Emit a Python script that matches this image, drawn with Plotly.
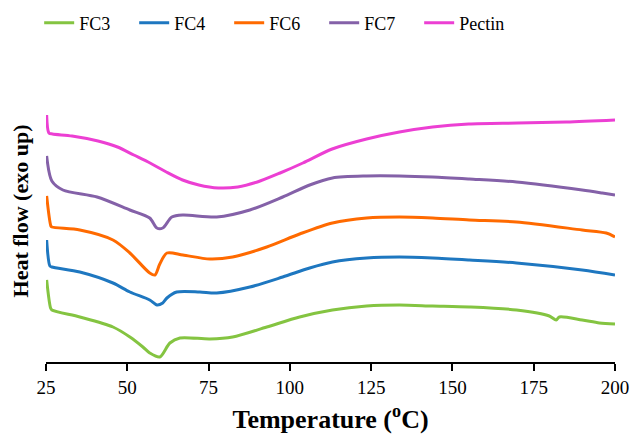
import plotly.graph_objects as go

# Temperature (°C) and heat flow (arbitrary units, exo up)
fc3_t = [25.2, 26.4, 26.8, 35.4, 45.6, 50.8, 54.8, 56.9, 60.0, 63.1, 66.2, 75.4, 82.4, 92.9, 103.0,
         113.1, 123.6, 133.7, 143.9, 155.2, 169.7, 179.8, 181.9, 182.9, 189.9, 195.2, 200.0]
fc3_v = [8.2, 5.4, 5.2, 4.5, 3.5, 2.5, 1.5, 0.9, 0.5, 1.9, 2.4, 2.3, 2.5, 3.5, 4.5,
         5.2, 5.6, 5.7, 5.6, 5.5, 5.2, 4.6, 4.2, 4.5, 4.2, 3.9, 3.8]

fc4_t = [25.2, 26.2, 26.8, 35.4, 45.6, 50.8, 56.9, 59.1, 60.9, 62.2, 65.2, 72.3, 77.5, 87.7, 97.8,
         106.1, 113.1, 123.6, 133.7, 143.9, 155.2, 169.7, 189.9, 200.0]
fc4_v = [12.2, 9.6, 9.5, 9.0, 7.9, 7.0, 6.2, 5.7, 5.9, 6.4, 7.0, 7.0, 6.9, 7.5, 8.5,
         9.4, 10.0, 10.4, 10.5, 10.4, 10.2, 9.9, 9.2, 8.7]

fc6_t = [25.2, 26.5, 26.8, 35.4, 45.6, 50.8, 56.9, 58.5, 60.0, 62.2, 67.1, 75.4, 82.4, 92.9, 103.0,
         113.1, 123.6, 133.7, 143.9, 155.2, 169.7, 189.9, 197.3, 200.0]
fc6_v = [16.6, 13.6, 13.5, 13.2, 12.2, 10.9, 8.9, 8.7, 9.8, 10.9, 10.7, 10.3, 10.5, 11.5, 12.8,
         13.9, 14.4, 14.5, 14.4, 14.2, 14.0, 13.2, 12.9, 12.5]

fc7_t = [25.2, 26.8, 30.2, 40.7, 50.8, 56.9, 59.1, 60.9, 63.7, 67.1, 77.5, 87.7, 97.8, 106.1,
         113.1, 123.6, 133.7, 143.9, 155.2, 169.7, 189.9, 196.1, 200.0]
fc7_v = [20.6, 18.1, 17.2, 16.5, 15.2, 14.4, 13.4, 13.4, 14.5, 14.7, 14.5, 15.2, 16.5, 17.7,
         18.4, 18.6, 18.6, 18.5, 18.3, 18.0, 17.2, 16.9, 16.7]

pectin_t = [25.2, 25.9, 27.0, 33.0, 41.0, 47.0, 52.0, 57.0, 62.0, 67.0, 72.0, 78.0, 84.0, 90.0,
            97.0, 104.0, 113.0, 123.6, 133.7, 143.9, 155.0, 170.0, 185.0, 200.0]
pectin_v = [24.7, 22.9, 22.8, 22.6, 22.1, 21.5, 20.7, 19.9, 19.0, 18.2, 17.7, 17.4, 17.5, 18.0,
            18.9, 19.9, 21.3, 22.3, 23.0, 23.5, 23.8, 23.9, 24.0, 24.2]

x_ticks = [25, 50, 75, 100, 125, 150, 175, 200]

series = [
    ("FC3", fc3_t, fc3_v, "#84C441"),
    ("FC4", fc4_t, fc4_v, "#1E77C0"),
    ("FC6", fc6_t, fc6_v, "#FF6A00"),
    ("FC7", fc7_t, fc7_v, "#8461A8"),
    ("Pectin", pectin_t, pectin_v, "#EC3FD3"),
]

fig = go.Figure()
for name, t, v, col in series:
    fig.add_trace(go.Scatter(x=t, y=v, name=name, mode="lines",
                             line=dict(color=col, width=3, shape="spline", smoothing=0.8)))

font_fam = "Liberation Serif, Times New Roman, serif"

fig.update_layout(
    width=633, height=434,
    margin=dict(l=46, r=18, t=60, b=72, autoexpand=False),
    paper_bgcolor="white", plot_bgcolor="white",
    font=dict(family=font_fam, color="black"),
    showlegend=True,
    legend=dict(orientation="h", x=-0.012, xanchor="left", y=1.1225, yanchor="middle",
                font=dict(size=18, family=font_fam, color="black"),
                entrywidth=50, entrywidthmode="pixels"),
    xaxis=dict(range=[25, 200], tickvals=x_ticks, ticks="outside", ticklen=7, tickwidth=2,
               tickcolor="black", showline=True, linecolor="black", linewidth=2,
               showgrid=False, zeroline=False,
               tickfont=dict(size=19, family=font_fam, color="black"),
               title=dict(text="<b>Temperature (<sup>o</sup>C)</b>", standoff=16,
                          font=dict(size=26, family=font_fam, color="black"))),
    yaxis=dict(range=[0, 30.2], showticklabels=False, ticks="", showline=False,
               showgrid=False, zeroline=False,
               title=dict(text="<b>Heat flow (exo up)</b>", standoff=10,
                          font=dict(size=22, family=font_fam, color="black"))),
)

fig.write_html("out.html", config={"displayModeBar": False},
               post_script="document.body.style.margin='0';document.body.style.overflow='hidden';")
